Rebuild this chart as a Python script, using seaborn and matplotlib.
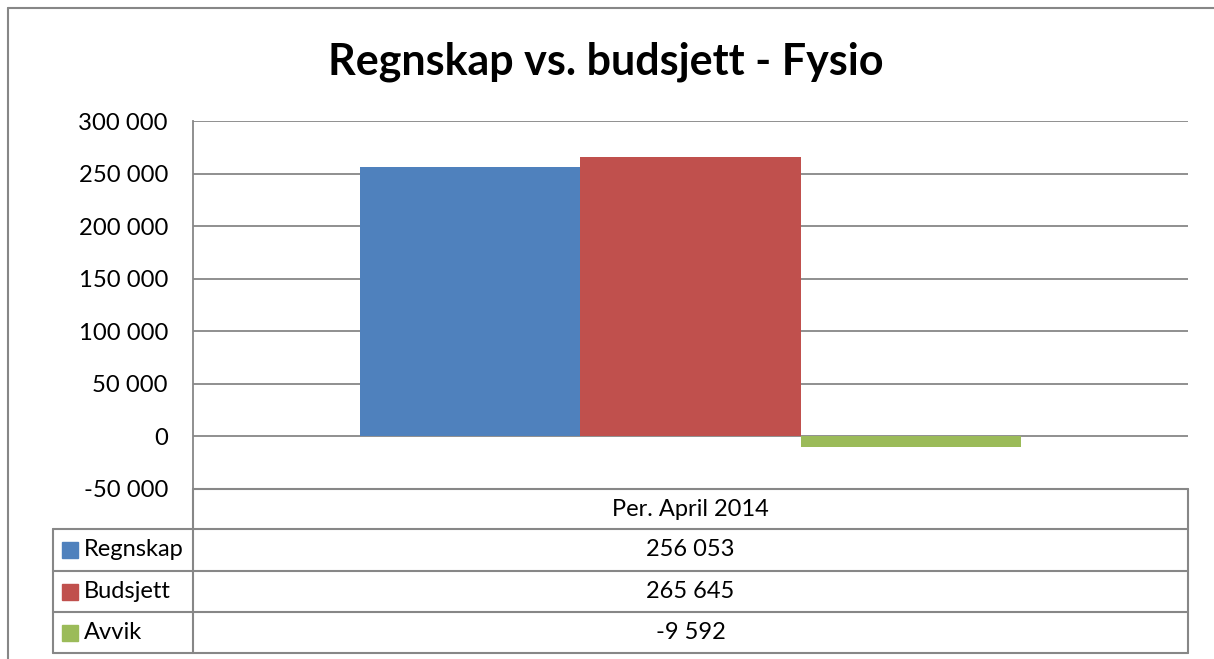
import matplotlib
matplotlib.use("Agg")
import matplotlib.pyplot as plt
from matplotlib.lines import Line2D
from matplotlib.patches import Rectangle
import seaborn as sns
import pandas as pd

# ---- data ----
category = ["Per. April 2014"]
series = ["Regnskap", "Budsjett", "Avvik"]
values = [256053, 265645, -9592]
colors = ["#4F81BD", "#C0504D", "#9BBB59"]
yticks = [-50000, 0, 50000, 100000, 150000, 200000, 250000, 300000]
title = "Regnskap vs. budsjett - Fysio"

sns.set_theme(style="white")
plt.rcParams["font.family"] = ["Lato", "DejaVu Sans"]

W, H = 1214, 659
fig = plt.figure(figsize=(W / 100, H / 100), dpi=100)
fig.patch.set_facecolor("white")

def fx(px):
    return px / W

def fy(py):
    return 1 - py / H

GRAY = "#878787"

# plot area
x0, x1, ytop, ybot = 193, 1188, 121, 489
ax = fig.add_axes([fx(x0), fy(ybot), fx(x1) - fx(x0), fy(ytop) - fy(ybot)])

df = pd.DataFrame({"cat": category * len(series), "series": series, "value": values})
sns.barplot(data=df, x="cat", y="value", hue="series", hue_order=series,
            palette=colors, width=0.665, saturation=1, linewidth=0,
            legend=False, ax=ax, zorder=3)
ax.set_xlim(-0.5, 0.5)
ax.set_ylim(-50000, 300000)
ax.set_yticks(yticks)
ax.set_yticklabels([f"{v:,}".replace(",", " ") for v in yticks])
ax.set_xticks([])
ax.set_xlabel("")
ax.set_ylabel("")
ax.grid(axis="y", color=GRAY, linewidth=1.3, zorder=0)
ax.set_axisbelow(True)
for s in ["top", "right", "bottom"]:
    ax.spines[s].set_visible(False)
ax.spines["left"].set_color(GRAY)
ax.spines["left"].set_linewidth(1.3)
ax.tick_params(axis="y", length=0, pad=18, labelsize=17.2, labelcolor="black")

# title
fig.text(fx(606), fy(62), title, ha="center", va="center", fontsize=31,
         fontweight="bold", color="black")

# outer chart border (cut at right/bottom)
fig.add_artist(Line2D([fx(8), fx(8)], [fy(8), 0], color=GRAY, lw=1.5))
fig.add_artist(Line2D([fx(8), 1], [fy(8), fy(8)], color=GRAY, lw=1.5))

# data table
rows = [489, 529, 571, 612, 653]
lw = 1.5
fig.add_artist(Line2D([fx(x0), fx(x1)], [fy(rows[0]), fy(rows[0])], color=GRAY, lw=lw))
fig.add_artist(Line2D([fx(x1), fx(x1)], [fy(rows[0]), fy(rows[-1])], color=GRAY, lw=lw))
fig.add_artist(Line2D([fx(x0), fx(x0)], [fy(rows[0]), fy(rows[-1])], color=GRAY, lw=lw))
fig.add_artist(Line2D([fx(53), fx(53)], [fy(rows[1]), fy(rows[-1])], color=GRAY, lw=lw))
for r in rows[1:]:
    fig.add_artist(Line2D([fx(53), fx(x1)], [fy(r), fy(r)], color=GRAY, lw=lw))

cx = (x0 + x1) / 2
TS = 17
fig.text(fx(cx), fy((rows[0] + rows[1]) / 2), category[0], ha="center", va="center",
         fontsize=TS, color="black")
for i, (name, val, col) in enumerate(zip(series, values, colors)):
    yc = (rows[i + 1] + rows[i + 2]) / 2
    fig.add_artist(Rectangle((fx(62), fy(yc + 8)), fx(16), 16 / H, color=col,
                             transform=fig.transFigure))
    fig.text(fx(84), fy(yc), name, ha="left", va="center", fontsize=TS, color="black")
    fig.text(fx(cx), fy(yc), f"{val:,}".replace(",", " "), ha="center", va="center",
             fontsize=TS, color="black")

fig.savefig("out.png", dpi=100, facecolor="white")
